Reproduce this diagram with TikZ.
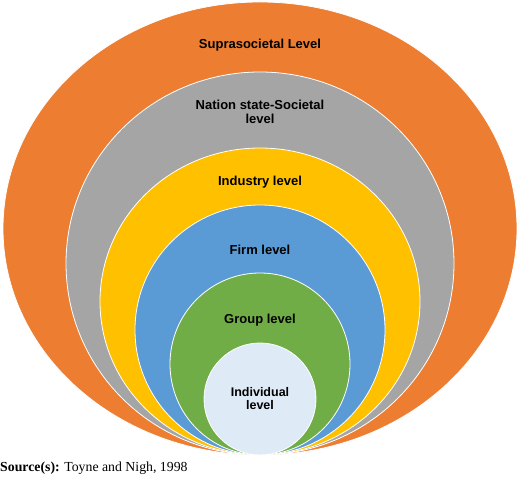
\documentclass[tikz,border=0pt]{standalone}
\usepackage{fontspec}
\setmainfont{Liberation Serif}
\newfontfamily\levelfont{Liberation Sans}
\definecolor{supracol}{HTML}{ED7D31}
\definecolor{nationcol}{HTML}{A5A5A5}
\definecolor{industrycol}{HTML}{FFC000}
\definecolor{firmcol}{HTML}{5B9BD5}
\definecolor{groupcol}{HTML}{70AD47}
\definecolor{indivcol}{HTML}{DEEBF7}

\begin{document}
\begin{tikzpicture}[x=1pt,y=1pt]
    \useasboundingbox (0,0) rectangle (520,477);
    \begin{scope}[every path/.style={draw=white,line width=0.8pt}]
        \filldraw[fill=supracol] (260,248.5) ellipse [x radius=257,y radius=226.5];
        \filldraw[fill=nationcol] (260,213.5) ellipse [x radius=194,y radius=191.5];
        \filldraw[fill=industrycol] (260,175.5) ellipse [x radius=160,y radius=153.5];
        \filldraw[fill=firmcol] (260,147) ellipse [x radius=125,y radius=125];
        \filldraw[fill=groupcol] (260,113) ellipse [x radius=90,y radius=91];
        \filldraw[fill=indivcol] (260,78) ellipse [x radius=56,y radius=56];
    \end{scope}
    \begin{scope}[every node/.style={font=\levelfont\bfseries\fontsize{13}{14}\selectfont,align=center}]
        \node (supra) at (260,432) {Suprasocietal Level};
        \node (nation) at (260,365) {Nation state-Societal\\level};
        \node (industry) at (260,295) {Industry level};
        \node (firm) at (260,227) {Firm level};
        \node (group) at (260,157) {Group level};
        \node[font=\levelfont\bfseries\fontsize{12.5}{13}\selectfont] (indiv) at (260,78) {Individual\\level};
    \end{scope}
    \node[anchor=west,inner sep=0pt,font=\fontsize{13.8}{15}\selectfont] (source) at (0,8.5) {\textbf{Source(s):} Toyne and Nigh, 1998};
\end{tikzpicture}
\end{document}
